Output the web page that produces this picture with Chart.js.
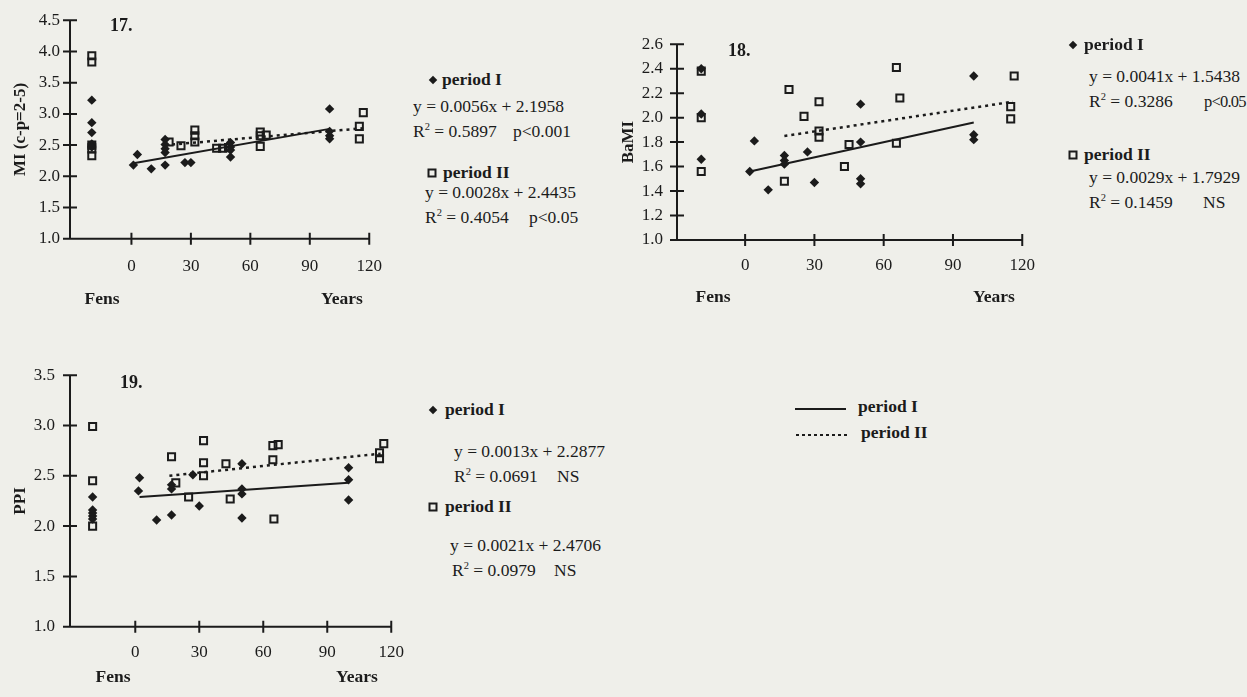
<!DOCTYPE html>
<html><head><meta charset="utf-8">
<script src="https://cdn.jsdelivr.net/npm/chart.js@4.4.0/dist/chart.umd.min.js"></script>
<style>
html,body{margin:0;padding:0;background:#efefea;}
#page{position:relative;width:1247px;height:697px;overflow:hidden;background:#efefea;font-family:"Liberation Serif","Times New Roman",serif;color:#1b1b1b;}
canvas{position:absolute;}
.t{position:absolute;white-space:nowrap;line-height:1;transform:translateY(-50%);font-size:17.5px;}
.b{font-weight:bold;}
.c{transform:translate(-50%,-50%);}
.dia{position:absolute;width:6px;height:6px;background:#1b1b1b;transform:translate(-50%,-50%) rotate(45deg);}
.sq{position:absolute;width:5px;height:5px;border:2px solid #1b1b1b;transform:translate(-50%,-50%);}
.ln{position:absolute;height:0;border-top:2.5px solid #1b1b1b;}
.dl{position:absolute;height:2px;background:repeating-linear-gradient(90deg,#1b1b1b 0,#1b1b1b 3px,transparent 3px,transparent 6px);}
sup{font-size:0.6em;vertical-align:0.65em;line-height:0;}
</style></head>
<body>
<div id="page">
  <canvas id="c17" width="400" height="300" style="left:0;top:0"></canvas>
  <canvas id="c18" width="450" height="290" style="left:600px;top:20px"></canvas>
  <canvas id="c19" width="420" height="347" style="left:0;top:350px"></canvas>

  <!-- Figure 17 texts -->
  <div class="t b" style="left:110px;top:25px;font-size:18px">17.</div>
  <div class="t b c" style="left:102px;top:299px">Fens</div>
  <div class="t b c" style="left:342px;top:299px">Years</div>
  <div class="dia" style="left:433px;top:80px"></div>
  <div class="t b" style="left:442px;top:80px">period I</div>
  <div class="t" style="left:413px;top:107px">y = 0.0056x + 2.1958</div>
  <div class="t" style="left:413px;top:132px">R<sup>2</sup> = 0.5897</div>
  <div class="t" style="left:513px;top:132px">p&lt;0.001</div>
  <div class="sq" style="left:432px;top:173px"></div>
  <div class="t b" style="left:443px;top:173px">period II</div>
  <div class="t" style="left:425px;top:193px">y = 0.0028x + 2.4435</div>
  <div class="t" style="left:425px;top:218px">R<sup>2</sup> = 0.4054</div>
  <div class="t" style="left:529px;top:218px">p&lt;0.05</div>

  <!-- Figure 18 texts -->
  <div class="t b" style="left:728px;top:50px;font-size:18px">18.</div>
  <div class="t b c" style="left:713px;top:297px">Fens</div>
  <div class="t b c" style="left:994px;top:297px">Years</div>
  <div class="dia" style="left:1073px;top:45px"></div>
  <div class="t b" style="left:1084px;top:45px">period I</div>
  <div class="t" style="left:1089px;top:77px">y = 0.0041x + 1.5438</div>
  <div class="t" style="left:1089px;top:102px">R<sup>2</sup> = 0.3286</div>
  <div class="t" style="left:1204px;top:102px;font-size:16.5px;letter-spacing:-0.8px">p&lt;0.05</div>
  <div class="sq" style="left:1073px;top:155px"></div>
  <div class="t b" style="left:1084px;top:155px">period II</div>
  <div class="t" style="left:1089px;top:178px">y = 0.0029x + 1.7929</div>
  <div class="t" style="left:1089px;top:203px">R<sup>2</sup> = 0.1459</div>
  <div class="t" style="left:1203px;top:203px">NS</div>

  <!-- Figure 19 texts -->
  <div class="t b" style="left:120px;top:382px;font-size:18px">19.</div>
  <div class="t b c" style="left:113px;top:677px">Fens</div>
  <div class="t b c" style="left:357px;top:677px">Years</div>
  <div class="dia" style="left:433px;top:410px"></div>
  <div class="t b" style="left:445px;top:410px">period I</div>
  <div class="t" style="left:454px;top:452px">y = 0.0013x + 2.2877</div>
  <div class="t" style="left:454px;top:477px">R<sup>2</sup> = 0.0691</div>
  <div class="t" style="left:557px;top:477px">NS</div>
  <div class="sq" style="left:433px;top:507px"></div>
  <div class="t b" style="left:445px;top:507px">period II</div>
  <div class="t" style="left:450px;top:546px">y = 0.0021x + 2.4706</div>
  <div class="t" style="left:452px;top:571px">R<sup>2</sup> = 0.0979</div>
  <div class="t" style="left:554px;top:571px">NS</div>

  <!-- line legend -->
  <div class="ln" style="left:795px;top:408px;width:51px"></div>
  <div class="t b" style="left:858px;top:407px">period I</div>
  <div class="dl" style="left:796px;top:434px;width:51px"></div>
  <div class="t b" style="left:861px;top:433px">period II</div>
</div>
<script>
// ---------- tick labels ----------
const yearTicks = [0, 30, 60, 90, 120];
const miTicks = [1.0, 1.5, 2.0, 2.5, 3.0, 3.5, 4.0, 4.5];
const bamiTicks = [1.0, 1.2, 1.4, 1.6, 1.8, 2.0, 2.2, 2.4, 2.6];
const ppiTicks = [1.0, 1.5, 2.0, 2.5, 3.0, 3.5];

// ---------- Figure 17: MI (c-p=2-5) ----------
const mi_fens_p1 = [3.22, 2.86, 2.70, 2.52, 2.47];
const mi_fens_p2 = [3.93, 3.83, 2.50, 2.44, 2.33];
const mi_p1_years  = [1, 3, 10, 17, 17, 17, 17, 17, 27, 30, 50, 50, 50, 50, 100, 100, 100, 100];
const mi_p1_values = [2.18, 2.35, 2.12, 2.18, 2.59, 2.51, 2.44, 2.38, 2.22, 2.22, 2.54, 2.47, 2.42, 2.31, 3.08, 2.72, 2.65, 2.60];
const mi_p2_years  = [19, 25, 32, 32, 32, 43, 46, 49, 65, 65, 65, 68, 115, 115, 117];
const mi_p2_values = [2.55, 2.49, 2.74, 2.65, 2.55, 2.45, 2.45, 2.46, 2.71, 2.65, 2.48, 2.66, 2.80, 2.60, 3.02];
const mi_trend1_years = [1, 100];
const mi_trend1_values = [2.21, 2.76];
const mi_trend2_years = [17, 117];
const mi_trend2_values = [2.50, 2.77];

// ---------- Figure 18: BaMI ----------
const bami_fens_p1 = [2.40, 2.03, 1.66];
const bami_fens_p2 = [2.38, 2.00, 1.56];
const bami_p1_years  = [2, 4, 10, 17, 17, 17, 27, 30, 50, 50, 50, 50, 99, 99, 99];
const bami_p1_values = [1.56, 1.81, 1.41, 1.69, 1.65, 1.62, 1.72, 1.47, 2.11, 1.80, 1.50, 1.46, 2.34, 1.86, 1.82];
const bami_p2_years  = [17, 19, 25.5, 32, 32, 32, 43, 45, 65.5, 67, 65.5, 116.5, 115, 115];
const bami_p2_values = [1.48, 2.23, 2.01, 2.13, 1.89, 1.84, 1.60, 1.78, 2.41, 2.16, 1.79, 2.34, 2.09, 1.99];
const bami_trend1_years = [2, 99];
const bami_trend1_values = [1.56, 1.96];
const bami_trend2_years = [17, 116];
const bami_trend2_values = [1.85, 2.13];

// ---------- Figure 19: PPI ----------
const ppi_fens_p1 = [2.29, 2.16, 2.13, 2.10, 2.07];
const ppi_fens_p2 = [2.99, 2.45, 2.00];
const ppi_p1_years  = [2, 1.5, 10, 17, 17, 17, 27, 30, 50, 50, 50, 50, 100, 100, 100];
const ppi_p1_values = [2.48, 2.35, 2.06, 2.41, 2.37, 2.11, 2.51, 2.20, 2.62, 2.37, 2.32, 2.08, 2.58, 2.46, 2.26];
const ppi_p2_years  = [17, 19, 25, 32, 32, 32, 42.5, 44.5, 64.5, 67, 64.5, 65, 116.5, 114.5, 114.5];
const ppi_p2_values = [2.69, 2.43, 2.29, 2.85, 2.63, 2.50, 2.62, 2.27, 2.80, 2.81, 2.66, 2.07, 2.82, 2.73, 2.67];
const ppi_trend1_years = [2, 100];
const ppi_trend1_values = [2.29, 2.43];
const ppi_trend2_years = [16, 115];
const ppi_trend2_values = [2.50, 2.72];

// ---------- rendering ----------
const INK = '#1b1b1b';
const FONT = '"Liberation Serif", "Times New Roman", serif';

function zip(xs, ys) { return xs.map((x, i) => ({x: x, y: ys[i]})); }
function fens(pos, ys) { return ys.map(y => ({x: pos, y: y})); }

const axisPlugin = {
  id: 'crossAxes',
  beforeDatasetsDraw(chart) {
    const {ctx} = chart;
    const x = chart.scales.x, y = chart.scales.y;
    const ax = x.getPixelForValue(x.min);
    const ay = y.getPixelForValue(y.min);
    ctx.save();
    ctx.strokeStyle = INK;
    ctx.lineWidth = 2;
    ctx.beginPath();
    ctx.moveTo(ax, y.getPixelForValue(y.max) - 1);
    ctx.lineTo(ax, ay);
    ctx.moveTo(ax - 1, ay);
    ctx.lineTo(x.getPixelForValue(x.max), ay);
    y.ticks.forEach(t => {
      const py = y.getPixelForValue(t.value);
      ctx.moveTo(ax - 7, py); ctx.lineTo(ax + 7, py);
    });
    x.ticks.forEach(t => {
      const px = x.getPixelForValue(t.value);
      ctx.moveTo(px, ay - 6); ctx.lineTo(px, ay + 6);
    });
    ctx.stroke();
    ctx.restore();
  }
};

function makeChart(id, c) {
  const fensPos = c.fensPos;
  const datasets = [
    {data: zip(c.t1x, c.t1y), showLine: true, pointRadius: 0, borderColor: INK, borderWidth: 2, order: 3},
    {data: zip(c.t2x, c.t2y), showLine: true, pointRadius: 0, borderColor: INK, borderWidth: 2.5, borderDash: [3, 4], order: 3},
    {data: fens(fensPos, c.f2).concat(zip(c.p2x, c.p2y)), pointStyle: 'rect', pointRadius: 5,
     borderColor: INK, borderWidth: 2, backgroundColor: 'rgba(0,0,0,0)', order: 2},
    {data: fens(fensPos, c.f1).concat(zip(c.p1x, c.p1y)), pointStyle: 'rectRot', pointRadius: 4.7,
     borderColor: INK, borderWidth: 0, backgroundColor: INK, order: 1}
  ];
  return new Chart(document.getElementById(id), {
    type: 'scatter',
    data: {datasets: datasets},
    options: {
      responsive: false, animation: false, devicePixelRatio: 1,
      layout: {padding: {top: c.padTop, right: c.padRight, left: 0, bottom: 0}},
      plugins: {legend: {display: false}, tooltip: {enabled: false}},
      elements: {point: {hoverRadius: 5}},
      scales: {
        x: {
          type: 'linear', min: c.xMin, max: 120,
          grid: {display: false, drawTicks: false}, border: {display: false},
          afterBuildTicks: s => { s.ticks = yearTicks.map(v => ({value: v})); },
          afterFit: s => { s.height = c.xHeight; },
          ticks: {autoSkip: false, maxRotation: 0, padding: c.xPad, color: INK,
                  font: {family: FONT, size: 17}, callback: v => String(v)}
        },
        y: {
          type: 'linear', min: c.yTicks[0], max: c.yTicks[c.yTicks.length - 1],
          grid: {display: false, drawTicks: false}, border: {display: false},
          afterBuildTicks: s => { s.ticks = c.yTicks.map(v => ({value: v})); },
          afterFit: s => { s.width = c.yWidth; },
          ticks: {padding: c.yPad, color: INK, font: {family: FONT, size: 17},
                  callback: v => Number(v).toFixed(1)},
          title: {display: true, text: c.yTitle, color: INK,
                  font: {family: FONT, size: 17, weight: 'bold'},
                  padding: {top: c.titlePad, bottom: 0}}
        }
      }
    },
    plugins: [axisPlugin]
  });
}

makeChart('c17', {
  fensPos: -20, xMin: -31, yTicks: miTicks, yTitle: 'MI (c-p=2-5)',
  padTop: 15, padRight: 25.7, xHeight: 61.2, yWidth: 70, xPad: 18, yPad: 10, titlePad: 10,
  f1: mi_fens_p1, f2: mi_fens_p2,
  p1x: mi_p1_years, p1y: mi_p1_values, p2x: mi_p2_years, p2y: mi_p2_values,
  t1x: mi_trend1_years, t1y: mi_trend1_values, t2x: mi_trend2_years, t2y: mi_trend2_values
});

makeChart('c18', {
  fensPos: -19, xMin: -29.5, yTicks: bamiTicks, yTitle: 'BaMI',
  padTop: 22, padRight: 15, xHeight: 70, yWidth: 77, xPad: 15, yPad: 14, titlePad: 18,
  f1: bami_fens_p1, f2: bami_fens_p2,
  p1x: bami_p1_years, p1y: bami_p1_values, p2x: bami_p2_years, p2y: bami_p2_values,
  t1x: bami_trend1_years, t1y: bami_trend1_values, t2x: bami_trend2_years, t2y: bami_trend2_values
});

makeChart('c19', {
  fensPos: -20, xMin: -30.6, yTicks: ppiTicks, yTitle: 'PPI',
  padTop: 22.3, padRight: 21.7, xHeight: 70.3, yWidth: 70, xPad: 16, yPad: 15, titlePad: 10,
  f1: ppi_fens_p1, f2: ppi_fens_p2,
  p1x: ppi_p1_years, p1y: ppi_p1_values, p2x: ppi_p2_years, p2y: ppi_p2_values,
  t1x: ppi_trend1_years, t1y: ppi_trend1_values, t2x: ppi_trend2_years, t2y: ppi_trend2_values
});
</script>
</body></html>
